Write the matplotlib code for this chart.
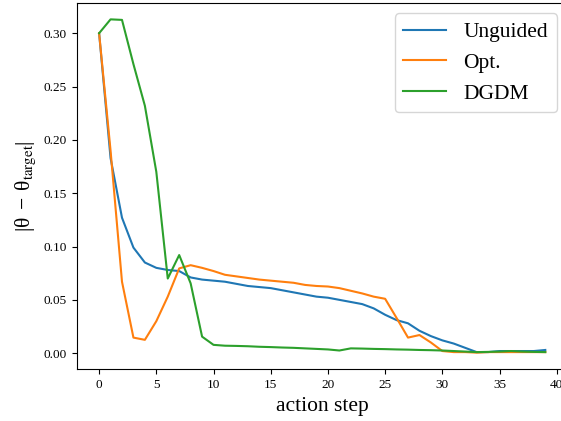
import numpy as np
import matplotlib
matplotlib.use("Agg")
import matplotlib.pyplot as plt

plt.rcParams['font.family'] = ['Liberation Serif', 'DejaVu Serif']
plt.rcParams['mathtext.fontset'] = 'stix'
plt.rcParams['mathtext.default'] = 'regular'

steps = np.arange(40)

unguided = [0.300, 0.183, 0.127, 0.099, 0.085, 0.080, 0.078, 0.077, 0.071, 0.069,
            0.068, 0.067, 0.065, 0.063, 0.062, 0.061, 0.059, 0.057, 0.055, 0.053,
            0.052, 0.050, 0.048, 0.046, 0.042, 0.036, 0.031, 0.028, 0.021, 0.016,
            0.012, 0.009, 0.005, 0.001, 0.001, 0.002, 0.002, 0.002, 0.002, 0.003]

opt = [0.300, 0.190, 0.067, 0.0146, 0.0125, 0.030, 0.053, 0.0795, 0.0825, 0.080,
       0.077, 0.0735, 0.072, 0.0705, 0.069, 0.068, 0.067, 0.066, 0.064, 0.063,
       0.0625, 0.061, 0.0585, 0.056, 0.053, 0.051, 0.033, 0.0146, 0.017, 0.010,
       0.002, 0.001, 0.001, 0.0005, 0.001, 0.001, 0.001, 0.001, 0.001, 0.001]

dgdm = [0.300, 0.313, 0.3125, 0.271, 0.232, 0.170, 0.070, 0.092, 0.0655, 0.0155,
        0.0078, 0.007, 0.0068, 0.0065, 0.006, 0.0057, 0.0053, 0.005, 0.0045, 0.004,
        0.0035, 0.0025, 0.0045, 0.0043, 0.004, 0.0038, 0.0035, 0.0033, 0.003, 0.0028,
        0.0025, 0.002, 0.0015, 0.001, 0.0012, 0.0015, 0.002, 0.0015, 0.0012, 0.001]

fig = plt.figure(figsize=(5.61, 4.21), dpi=100)
# axes run slightly past the right edge, as in the cropped original
ax = fig.add_axes([0.1369, 0.1228, 0.8749, 0.8708])

ax.plot(steps, unguided, label="Unguided")
ax.plot(steps, opt, label="Opt.")
ax.plot(steps, dgdm, label="DGDM")

ax.set_xlabel("action step", fontsize=15.5)
ax.set_ylabel(r"$|\theta \;-\; \theta_{\rm target}|$", fontsize=15.5)
ax.tick_params(labelsize=9.5)
ax.legend(loc="upper right", fontsize=15.5)

fig.savefig("out.png", dpi=100)
